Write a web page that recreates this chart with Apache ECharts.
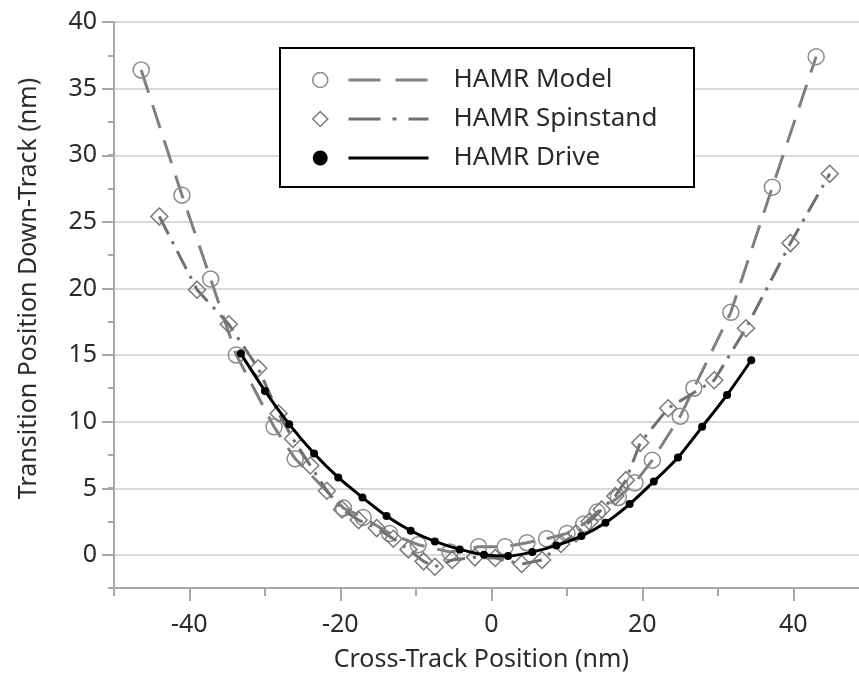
<!DOCTYPE html>
<html>
<head>
<meta charset="utf-8">
<script src="https://cdn.jsdelivr.net/npm/echarts@6/dist/echarts.min.js"></script>
<style>html,body{margin:0;padding:0;background:#fff;}#c{width:859px;height:680px;}</style>
</head>
<body>
<div id="c"></div>
<script>
// ---- data ----
const seriesNames = ['HAMR Model', 'HAMR Spinstand', 'HAMR Drive'];
const xTickValues = [-40, -20, 0, 20, 40];
const yTickValues = [0, 5, 10, 15, 20, 25, 30, 35, 40];

const modelX = [-46.4, -41.0, -37.2, -33.8, -28.8, -26.0, -19.6, -17.0, -13.5, -9.7, -5.5, -1.7, 1.8, 4.7, 7.3, 10.0, 12.2, 14.0, 16.8, 19.0, 21.3, 25.0, 26.8, 31.7, 37.2, 43.0];
const modelY = [36.4, 27.0, 20.7, 15.0, 9.6, 7.2, 3.5, 2.8, 1.6, 0.75, 0.2, 0.6, 0.6, 0.9, 1.2, 1.6, 2.3, 3.2, 4.3, 5.4, 7.1, 10.4, 12.5, 18.2, 27.6, 37.4];

const spinX = [-44.0, -39.0, -34.8, -30.9, -28.2, -26.3, -24.0, -21.8, -19.8, -17.6, -15.2, -13.0, -11.0, -9.0, -7.5, -5.2, -2.2, 0.5, 4.0, 6.7, 9.2, 11.2, 13.0, 14.6, 16.4, 17.8, 19.7, 23.4, 29.5, 33.7, 39.6, 44.8];
const spinY = [25.4, 19.9, 17.3, 14.0, 10.6, 8.7, 6.7, 4.8, 3.4, 2.6, 2.0, 1.2, 0.4, -0.5, -0.9, -0.4, -0.2, -0.25, -0.7, -0.4, 0.8, 1.6, 2.5, 3.4, 4.4, 5.6, 8.4, 11.0, 13.1, 17.0, 23.4, 28.6];

const driveX = [-33.2, -30.0, -26.8, -23.5, -20.3, -17.1, -13.9, -10.7, -7.5, -4.2, -1.0, 2.2, 5.4, 8.6, 11.9, 15.1, 18.3, 21.5, 24.7, 27.9, 31.2, 34.4];
const driveY = [15.1, 12.3, 9.8, 7.6, 5.8, 4.3, 2.9, 1.8, 1.0, 0.4, 0.0, -0.1, 0.2, 0.7, 1.4, 2.4, 3.8, 5.5, 7.3, 9.6, 12.0, 14.6];

const pairs = (xs, ys) => xs.map((x, i) => [x, ys[i]]);

const FONT = 'Noto Sans';
const AX = '#a8a8a8';
const TXT = '#2b2b2b';

const chart = echarts.init(document.getElementById('c'), null, {renderer: 'canvas'});
chart.setOption({
  animation: false,
  backgroundColor: '#ffffff',
  grid: [
    {left: 114, width: 755, top: 22, bottom: 92, outerBoundsMode: 'none', containLabel: false},
    {left: 189.3, width: 604, top: 22, bottom: 92, outerBoundsMode: 'none', containLabel: false},
    {left: 114, width: 755, top: 22, bottom: 125, outerBoundsMode: 'none', containLabel: false}
  ],
  xAxis: [
    {gridIndex: 0, type: 'value', min: -50, max: 50, interval: 10,
      axisLine: {show: true, onZero: false, lineStyle: {color: AX, width: 2}},
      axisTick: {show: true, length: 8, lineStyle: {color: AX, width: 2}},
      axisLabel: {show: false}, splitLine: {show: false}},
    {gridIndex: 1, type: 'value', min: xTickValues[0], max: xTickValues[xTickValues.length - 1], interval: 20,
      axisLine: {show: false, onZero: false},
      axisTick: {show: true, length: 13, lineStyle: {color: AX, width: 2}},
      axisLabel: {show: true, margin: 24, fontSize: 25, fontFamily: FONT, color: TXT},
      splitLine: {show: false},
      name: 'Cross-Track Position (nm)', nameLocation: 'middle', nameGap: 59,
      nameTextStyle: {fontSize: 25, fontFamily: FONT, color: TXT, padding: [0, 20, 0, 0]}},
    {gridIndex: 2, type: 'value', min: -50, max: 50, show: false}
  ],
  yAxis: [
    {gridIndex: 0, type: 'value', min: -2.5, max: 40, interval: 2.5,
      axisLine: {show: true, onZero: false, lineStyle: {color: AX, width: 2}},
      axisTick: {show: true, length: 6, lineStyle: {color: AX, width: 2}},
      axisLabel: {show: false}, splitLine: {show: false}},
    {gridIndex: 1, type: 'value', min: -2.5, max: 40, show: false},
    {gridIndex: 2, type: 'value', min: yTickValues[0], max: yTickValues[yTickValues.length - 1], interval: 5,
      axisLine: {show: false, onZero: false},
      axisTick: {show: true, length: 12, lineStyle: {color: AX, width: 2}},
      axisLabel: {show: true, margin: 17, fontSize: 25, fontFamily: FONT, color: TXT},
      splitLine: {show: true, lineStyle: {color: '#dadada', width: 2}},
      name: 'Transition Position Down-Track (nm)', nameLocation: 'middle', nameGap: 73, nameRotate: 90,
      nameTextStyle: {fontSize: 25, fontFamily: FONT, color: TXT}}
  ],
  graphic: [
    {type: 'rect', left: 279, top: 47, z: 3,
      shape: {width: 414, height: 139},
      style: {fill: '#ffffff', stroke: '#000000', lineWidth: 2}}
  ],
  legend: [
    {data: [
        {name: seriesNames[0], lineStyle: {type: [32, 15]}},
        {name: seriesNames[1], lineStyle: {type: [32, 12, 4, 12]}},
        {name: seriesNames[2]}
      ],
      orient: 'vertical', left: 347, top: 65, padding: 0,
      itemWidth: 80, itemHeight: 14, itemGap: 9, selectedMode: false, z: 5,
      itemStyle: {opacity: 0}, lineStyle: {width: 3},
      textStyle: {fontSize: 26, fontFamily: FONT, color: TXT, lineHeight: 30, padding: [0, 0, 0, 20]}},
    {data: [{name: seriesNames[0], icon: 'circle'}, {name: seriesNames[1], icon: 'diamond'}, {name: seriesNames[2], icon: 'circle'}],
      orient: 'vertical', left: 312, top: 65, padding: 0,
      itemWidth: 15, itemHeight: 15, itemGap: 9, selectedMode: false, z: 5,
      formatter: function () { return ' '; },
      itemStyle: {borderWidth: 1.5},
      textStyle: {fontSize: 26, fontFamily: FONT, color: TXT, lineHeight: 30}}
  ],
  series: [
    {name: seriesNames[0], type: 'line', xAxisIndex: 0, yAxisIndex: 0,
      data: pairs(modelX, modelY), smooth: false,
      symbol: 'circle', symbolSize: 16,
      itemStyle: {color: 'rgba(255,255,255,0)', borderColor: '#8c8c8c', borderWidth: 1.5},
      lineStyle: {color: '#808080', width: 3, type: [24, 13]}, z: 2},
    {name: seriesNames[1], type: 'line', xAxisIndex: 0, yAxisIndex: 0,
      data: pairs(spinX, spinY), smooth: false,
      symbol: 'diamond', symbolSize: 17,
      itemStyle: {color: 'rgba(255,255,255,0)', borderColor: '#7a7a7a', borderWidth: 1.5},
      lineStyle: {color: '#707070', width: 3, type: [20, 8, 3, 8]}, z: 3},
    {name: seriesNames[2], type: 'line', xAxisIndex: 0, yAxisIndex: 0,
      data: pairs(driveX, driveY), smooth: 0.3,
      symbol: 'circle', symbolSize: 8,
      itemStyle: {color: '#000000', borderWidth: 0},
      lineStyle: {color: '#000000', width: 3}, z: 4}
  ]
});
</script>
</body>
</html>
